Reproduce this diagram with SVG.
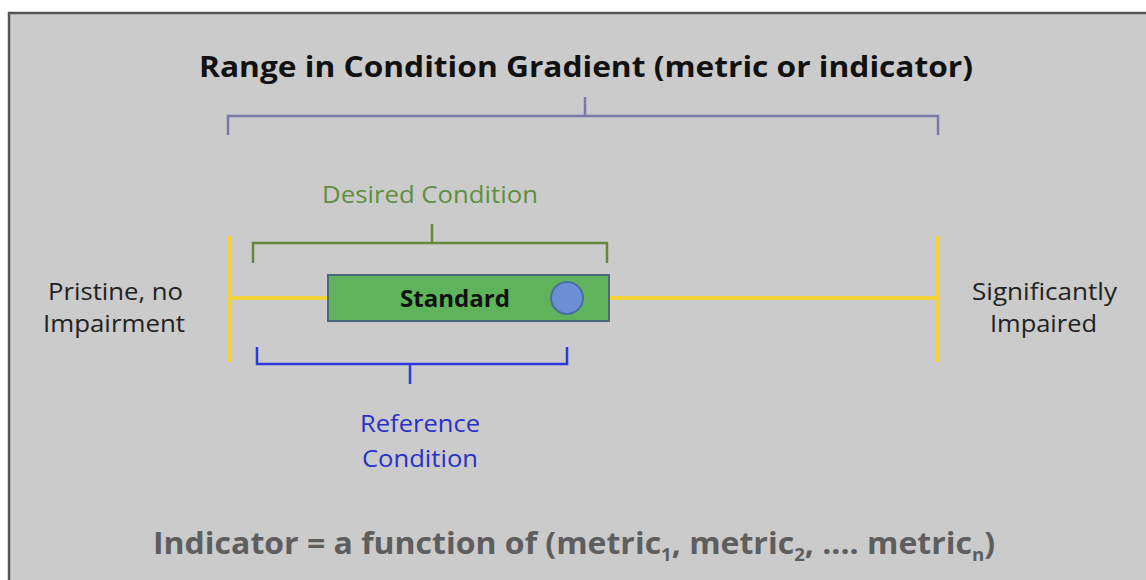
<svg xmlns="http://www.w3.org/2000/svg" width="1146" height="580" viewBox="0 0 1146 580">
<style>
text{font-family:"Open Sans","Liberation Sans",Arial,sans-serif}
.lbl{font-size:24px;fill:#222}
.br{fill:none;stroke-width:2.5;stroke-linejoin:miter}
.yl{stroke:#f2d23a;stroke-width:4;fill:none}
</style>
<rect x="0" y="0" width="1146" height="580" fill="#ffffff"/>
<rect x="9" y="13" width="1150" height="580" fill="#cbcbcb" stroke="#555" stroke-width="2.5"/>
<g id="title"><text x="199" y="77" font-size="28" font-weight="bold" fill="#111" textLength="774" lengthAdjust="spacingAndGlyphs">Range in Condition Gradient (metric or indicator)</text></g>
<g id="connectors">
<path class="br" stroke="#7a78aa" d="M228,135 V116 H938 V135 M585,116 V97"/>
<path class="br" stroke="#66873a" d="M253,263 V243 H607 V263 M432,243 V224"/>
<path class="br" stroke="#2b3be0" d="M257,347 V364 H567 V347 M410,364 V384"/>
<line class="yl" x1="229" y1="298" x2="938" y2="298"/>
<line class="yl" x1="229" y1="236" x2="229" y2="362"/>
<line class="yl" x1="938" y1="236" x2="938" y2="362"/>
</g>
<g id="desired"><text x="322" y="203" font-size="24" fill="#5f8f3e" textLength="216" lengthAdjust="spacingAndGlyphs">Desired Condition</text></g>
<g id="standard">
<rect x="328" y="275" width="281" height="46" fill="#5fb35a" stroke="#4a6a7a" stroke-width="2"/>
<text x="400" y="307" font-size="24" font-weight="bold" fill="#111" textLength="110" lengthAdjust="spacingAndGlyphs">Standard</text>
<circle cx="567" cy="298" r="16" fill="#6b8fd2" stroke="#4a6fa5" stroke-width="2"/>
</g>
<g id="reference"><text x="360" y="432" font-size="24" fill="#2a30c8" textLength="120" lengthAdjust="spacingAndGlyphs">Reference</text><text x="362" y="467" font-size="24" fill="#2a30c8" textLength="116" lengthAdjust="spacingAndGlyphs">Condition</text></g>
<g id="pristine"><text class="lbl" x="48" y="300" textLength="135" lengthAdjust="spacingAndGlyphs">Pristine, no</text><text class="lbl" x="43" y="332" textLength="142" lengthAdjust="spacingAndGlyphs">Impairment</text></g>
<g id="impaired"><text class="lbl" x="972" y="300" textLength="145" lengthAdjust="spacingAndGlyphs">Significantly</text><text class="lbl" x="990" y="332" textLength="107" lengthAdjust="spacingAndGlyphs">Impaired</text></g>
<g id="formula"><text x="153" y="554" font-size="31" font-weight="bold" fill="#5e5e5e" textLength="842" lengthAdjust="spacingAndGlyphs">Indicator = a function of (metric<tspan font-size="18" dy="7">1</tspan><tspan dy="-7">, metric</tspan><tspan font-size="18" dy="7">2</tspan><tspan dy="-7">, .... metric</tspan><tspan font-size="18" dy="7">n</tspan><tspan dy="-7">)</tspan></text></g>
</svg>
